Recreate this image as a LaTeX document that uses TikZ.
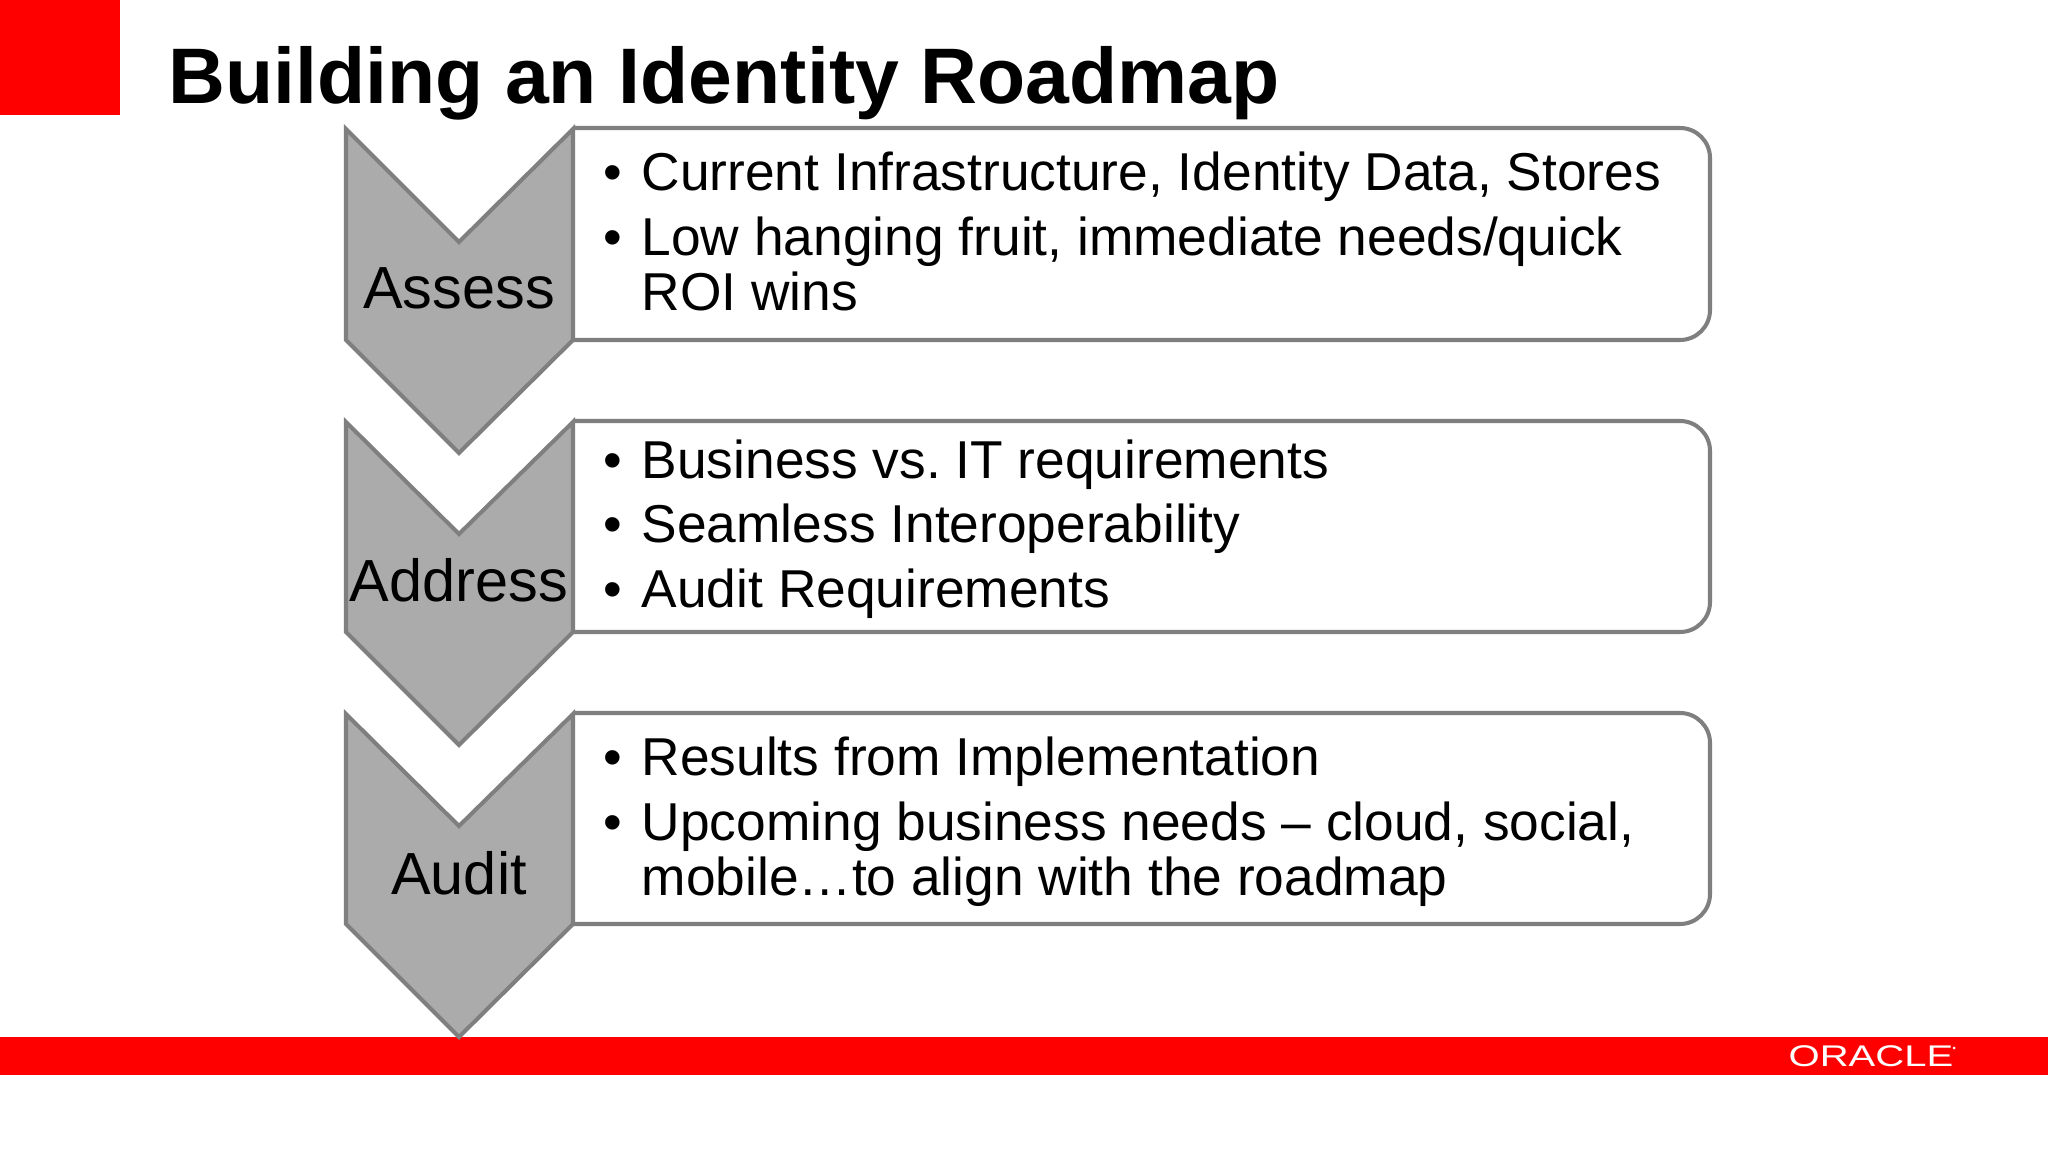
\documentclass[tikz,border=0pt]{standalone}
\usepackage{fontspec}
\setmainfont{Liberation Sans}
\usepackage{tikz}
\definecolor{oraclered}{HTML}{FF0000}
\definecolor{chevfill}{HTML}{ABABAB}
\definecolor{chevline}{HTML}{7F7F7F}
\newcommand{\itembul}{\llap{\textbullet\hspace{0.2cm}}}
\tikzset{
    chev/.style={draw=chevline,fill=chevfill,line width=1.15pt,line join=miter},
    panel/.style={draw=chevline,fill=white,line width=1.15pt,rounded corners=0.3cm},
    redband/.style={fill=oraclered},
    label/.style={font=\fontsize{16.9}{20}\selectfont,anchor=base},
    item/.style={font=\fontsize{15.16}{18}\selectfont\frenchspacing,anchor=base west},
    heading/.style={font=\fontsize{22.4}{26}\selectfont\bfseries,anchor=base west}
}

\begin{document}
\begin{tikzpicture}[x=0.01cm,y=-0.01cm]
    \useasboundingbox (0,0) rectangle (2048,1152);
    \fill [white] (0,0) rectangle (2048,1152);
    \fill [redband] (0,0) rectangle (119.5,115);
    \fill [redband] (0,1037) rectangle (2048,1075);
    \node [heading,inner sep=0] (title) at (167.5,104) {Building an Identity Roadmap};
    % first row
    \draw [panel] (573,128) -- (1710,128) -- (1710,340) -- (573,340);
    \draw [chev] (346,129) -- (459,242) -- (573,129) -- (573,340) -- (459,453) -- (346,340) -- cycle;
    \node [label,inner sep=0] (assess) at (459,309) {Assess};
    \node [item,inner sep=0] (a1) at (641,191) {\itembul Current Infrastructure, Identity Data, Stores};
    \node [item,inner sep=0] (a2) at (641,256) {\itembul Low hanging fruit, immediate needs/quick};
    \node [item,inner sep=0] (a3) at (641,311) {ROI wins};
    % second row
    \draw [panel] (573,421) -- (1710,421) -- (1710,632) -- (573,632);
    \draw [chev] (346,422) -- (459,534) -- (573,422) -- (573,632) -- (459,745) -- (346,632) -- cycle;
    \node [label,inner sep=0] (address) at (459,601) {Address};
    \node [item,inner sep=0] (b1) at (641,479) {\itembul Business vs. IT requirements};
    \node [item,inner sep=0] (b2) at (641,543) {\itembul Seamless Interoperability};
    \node [item,inner sep=0] (b3) at (641,607) {\itembul Audit Requirements};
    % third row
    \draw [panel] (573,713) -- (1710,713) -- (1710,924) -- (573,924);
    \draw [chev] (346,714) -- (459,826) -- (573,714) -- (573,924) -- (459,1037) -- (346,924) -- cycle;
    \node [label,inner sep=0] (audit) at (459,894) {Audit};
    \node [item,inner sep=0] (c1) at (641,775) {\itembul Results from Implementation};
    \node [item,inner sep=0] (c2) at (641,840) {\itembul Upcoming business needs -- cloud, social,};
    \node [item,inner sep=0] (c3) at (641,895) {mobile…to align with the roadmap};
    % logo
    \node [inner sep=0,anchor=base,text=white,font=\fontsize{8.5}{10}\selectfont,xscale=1.34] (logo) at (1871,1066) {ORACLE};
    \fill [white] (1954,1048) circle (1.5);
\end{tikzpicture}
\end{document}
